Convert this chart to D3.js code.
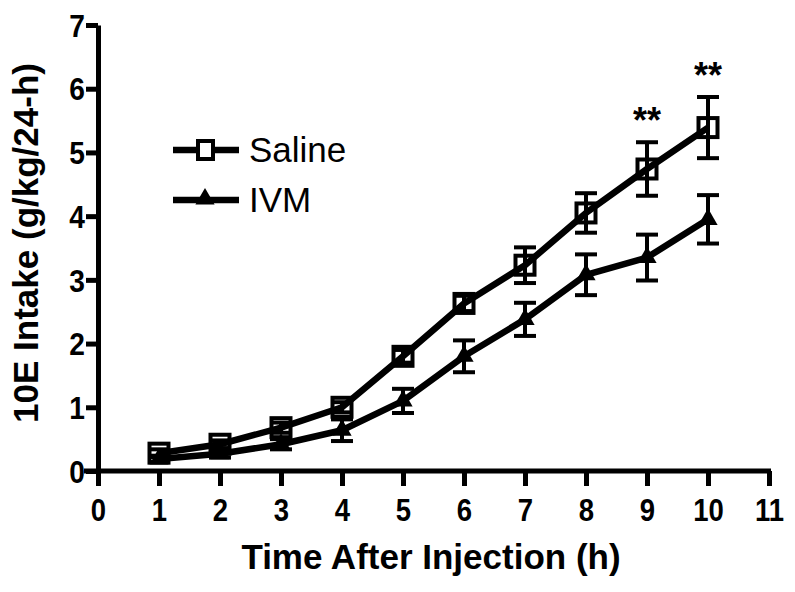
<!DOCTYPE html>
<html><head><meta charset="utf-8">
<script src="https://cdn.jsdelivr.net/npm/d3@7"></script>
<style>body{margin:0;background:#fff}svg{display:block}text{font-family:"Liberation Sans",Arial,sans-serif}</style>
</head><body>
<script>
const hours = [1,2,3,4,5,6,7,8,9,10];
const salineMean = [0.28,0.42,0.68,1.0,1.8,2.63,3.23,4.05,4.74,5.39];
const salineErr  = [0.06,0.06,0.08,0.08,0.1,0.12,0.28,0.31,0.42,0.48];
const ivmMean = [0.19,0.27,0.42,0.64,1.1,1.8,2.38,3.08,3.35,3.95];
const ivmErr  = [0.05,0.06,0.08,0.17,0.19,0.25,0.26,0.32,0.36,0.38];
const xTicks = [0,1,2,3,4,5,6,7,8,9,10,11];
const yTicks = [0,1,2,3,4,5,6,7];
const sigHours = [9,10];
const sigLabel = "**";

const W=795,H=592;
const svg=d3.select("body").append("svg").attr("width",W).attr("height",H);
const x=d3.scaleLinear().domain([0,11]).range([98,769]);
const y=d3.scaleLinear().domain([0,7]).range([471,25]);

const xAxis=svg.append("g").attr("transform","translate(0,471)")
  .call(d3.axisBottom(x).tickValues(xTicks).tickFormat(d3.format("d")).tickSize(15).tickSizeOuter(0).tickPadding(12));
const yAxis=svg.append("g").attr("transform","translate(98,0)")
  .call(d3.axisLeft(y).tickValues(yTicks).tickFormat(d3.format("d")).tickSize(12).tickSizeOuter(0).tickPadding(3));
[xAxis,yAxis].forEach(g=>{
  g.select(".domain").attr("stroke","#000").attr("stroke-width",5);
  g.selectAll(".tick line").attr("stroke","#000").attr("stroke-width",5);
  g.selectAll(".tick text").attr("fill","#000").style("font-size","32px").style("font-weight","bold")
   .style("font-family","'Liberation Sans',Arial,sans-serif");
});
xAxis.selectAll(".tick text").attr("transform","scale(0.86,1)");
yAxis.selectAll(".tick text").attr("transform","scale(0.88,1)").attr("dy","0.35em");
xAxis.select(".domain").attr("d","M84,0H771");

const series=[{m:salineMean,e:salineErr,type:"square"},{m:ivmMean,e:ivmErr,type:"tri"}];
const line=d3.line().x((d,i)=>x(hours[i])).y(d=>y(d));

series.forEach(s=>{
  const g=svg.append("g");
  hours.forEach((h,i)=>{
    const cx=x(h), top=y(s.m[i]+s.e[i]), bot=y(s.m[i]-s.e[i]);
    g.append("line").attr("x1",cx).attr("x2",cx).attr("y1",top).attr("y2",bot).attr("stroke","#000").attr("stroke-width",4);
    g.append("line").attr("x1",cx-11).attr("x2",cx+11).attr("y1",top).attr("y2",top).attr("stroke","#000").attr("stroke-width",4);
    g.append("line").attr("x1",cx-11).attr("x2",cx+11).attr("y1",bot).attr("y2",bot).attr("stroke","#000").attr("stroke-width",4);
  });
  g.append("path").datum(s.m).attr("d",line).attr("fill","none").attr("stroke","#000").attr("stroke-width",6.5).attr("stroke-linejoin","round");
});
series.forEach(s=>{
  const g=svg.append("g");
  hours.forEach((h,i)=>{
    const cx=x(h), cy=y(s.m[i]);
    if(s.type==="square"){
      g.append("rect").attr("x",cx-9.5).attr("y",cy-9.5).attr("width",19).attr("height",19)
        .attr("fill","none").attr("stroke","#000").attr("stroke-width",4);
    } else {
      g.append("path").attr("d",d3.symbol().type(d3.symbolTriangle).size(160)()).attr("transform",`translate(${cx},${cy})`).attr("fill","#000");
    }
  });
});
sigHours.forEach(h=>{
  const i=hours.indexOf(h);
  svg.append("text").attr("x",x(h)).attr("y",y(salineMean[i]+salineErr[i])-9)
    .attr("text-anchor","middle").style("font-size","36px").style("font-weight","bold").text(sigLabel);
});

const leg=[{label:"Saline",type:"square",yy:150},{label:"IVM",type:"tri",yy:200}];
leg.forEach(l=>{
  svg.append("line").attr("x1",173).attr("x2",239).attr("y1",l.yy).attr("y2",l.yy).attr("stroke","#000").attr("stroke-width",6.5);
  if(l.type==="square"){
    svg.append("rect").attr("x",198).attr("y",l.yy-9).attr("width",15).attr("height",18).attr("fill","#fff").attr("stroke","#000").attr("stroke-width",4);
  } else {
    svg.append("path").attr("d",d3.symbol().type(d3.symbolTriangle).size(160)()).attr("transform",`translate(205,${l.yy-1})`).attr("fill","#000");
  }
  svg.append("text").attr("x",249).attr("y",l.yy+12).style("font-size","35px").text(l.label);
});

svg.append("text").attr("x",431).attr("y",569).attr("text-anchor","middle")
  .style("font-size","35px").style("font-weight","bold").text("Time After Injection (h)");
svg.append("text").attr("transform","translate(38,243) rotate(-90)").attr("text-anchor","middle")
  .style("font-size","35px").style("font-weight","bold").text("10E Intake (g/kg/24-h)");
</script>
</body></html>
